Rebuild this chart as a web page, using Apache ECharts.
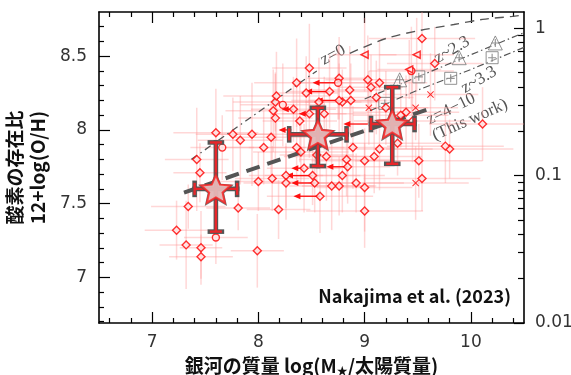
<!DOCTYPE html>
<html>
<head>
<meta charset="utf-8">
<script src="https://cdn.jsdelivr.net/npm/echarts@6/dist/echarts.min.js"></script>
<style>
  html, body { margin: 0; padding: 0; background: #fff; }
  #chart { width: 571px; height: 375px; }
</style>
</head>
<body>
<div id="chart"></div>
<script>
// ---- axes ----
var xMin = 6.5, xMax = 10.5;
var yMin = 6.69, yMax = 8.8;
var xMajor = [7, 8, 9, 10];
var xMinor = [6.6, 6.8, 7.2, 7.4, 7.6, 7.8, 8.2, 8.4, 8.6, 8.8, 9.2, 9.4, 9.6, 9.8, 10.2, 10.4];
var yMajor = [7, 7.5, 8, 8.5];
var yMinor = [6.7, 6.8, 6.9, 7.1, 7.2, 7.3, 7.4, 7.6, 7.7, 7.8, 7.9, 8.1, 8.2, 8.3, 8.4, 8.6, 8.7];
// right axis: Z/Zsun, 12+log(O/H) = 8.69 + log10(Z)
var zSunOH = 8.69;
var zMajor = [0.01, 0.1, 1];
var zMinor = [0.02, 0.03, 0.04, 0.05, 0.06, 0.07, 0.08, 0.09, 0.2, 0.3, 0.4, 0.5, 0.6, 0.7, 0.8, 0.9];

// ---- individual galaxies (red symbols, pink error bars) ----
var galX = [7.23, 7.32, 7.34, 7.42, 7.45, 7.46, 7.46, 7.60, 7.60, 7.66,
  7.76, 7.81, 7.83, 7.94, 8.00, 7.99, 8.05, 8.13, 8.14, 8.16,
  8.16, 8.17, 8.19, 8.23, 8.26, 8.51, 8.26, 8.53, 8.58, 8.43,
  8.33, 8.36, 8.36, 8.39, 8.45, 8.48, 8.75, 8.76, 8.67, 8.86,
  8.87, 8.79, 8.57, 8.76, 9.03, 9.11, 9.14, 9.06, 8.48, 8.62,
  8.12, 8.40, 8.64, 8.83, 8.89, 9.00, 9.09, 8.84, 8.76, 8.69,
  8.92, 8.55, 8.79, 9.00, 9.00, 9.14, 9.51, 9.54, 9.80, 9.54,
  9.66, 9.44, 9.39, 9.34, 9.45, 10.11, 9.31, 9.76, 9.20,
  9.04, 9.62, 9.48, 9.48, 9.00, 9.49, 9.42];
var galY = [7.32, 7.22, 7.48, 7.80, 7.71, 7.20, 7.14, 7.27, 7.98, 7.88,
  7.97, 7.47, 7.93, 7.97, 7.65, 7.18, 7.88, 7.67, 8.13, 8.08,
  8.19, 8.23, 7.46, 8.17, 7.69, 7.69, 7.64, 7.64, 7.55, 7.74,
  8.14, 7.88, 8.32, 8.06, 8.25, 8.42, 8.32, 8.35, 8.26, 8.27,
  8.20, 8.19, 8.19, 8.20, 8.34, 8.22, 8.32, 8.29, 8.11, 8.11,
  7.95, 7.85, 7.82, 7.80, 7.88, 7.79, 7.82, 7.75, 7.62, 7.62,
  7.64, 7.83, 7.69, 7.61, 7.45, 7.87, 7.79, 7.67, 7.87, 8.62,
  8.45, 8.40, 8.12, 8.10, 8.06, 8.04, 7.91, 7.89, 8.15,
  8.15, 8.24, 8.15, 7.64, 8.51, 8.51, 8.41];
var galXErr = [0.30, 0.25, 0.35, 0.30, 0.25, 0.20, 0.30, 0.30, 0.40, 0.30,
  0.35, 0.30, 0.40, 0.35, 0.40, 0.25, 0.40, 0.35, 0.45, 0.35,
  0.40, 0.50, 0.30, 0.40, 0.35, 0.45, 0.40, 0.40, 0.50, 0.35,
  0.40, 0.45, 0.40, 0.35, 0.30, 0.35, 0.40, 0.30, 0.40, 0.35,
  0.40, 0.35, 0.40, 0.45, 0.40, 0.35, 0.45, 0.30, 0.35, 0.40,
  0.35, 0.45, 0.40, 0.45, 0.40, 0.50, 0.45, 0.40, 0.35, 0.40,
  0.45, 0.35, 0.40, 0.45, 0.55, 0.50, 0.60, 0.55, 0.60, 0.50,
  0.45, 0.40, 0.50, 0.45, 0.55, 0.50, 0.45, 0.55, 0.40,
  0.40, 0.45, 0.40, 0.50, 0.30, 0.35, 0.30];
var galYErr = [0.20, 0.30, 0.15, 0.35, 0.20, 0.25, 0.15, 0.18, 0.30, 0.22,
  0.25, 0.15, 0.30, 0.35, 0.20, 0.25, 0.25, 0.22, 0.28, 0.30,
  0.20, 0.30, 0.20, 0.28, 0.22, 0.20, 0.25, 0.20, 0.25, 0.30,
  0.22, 0.25, 0.30, 0.28, 0.25, 0.30, 0.25, 0.28, 0.25, 0.30,
  0.25, 0.22, 0.30, 0.25, 0.30, 0.25, 0.28, 0.22, 0.30, 0.25,
  0.25, 0.22, 0.30, 0.25, 0.28, 0.22, 0.25, 0.25, 0.20, 0.30,
  0.20, 0.22, 0.25, 0.30, 0.25, 0.28, 0.25, 0.22, 0.20, 0.30,
  0.25, 0.30, 0.25, 0.22, 0.28, 0.25, 0.22, 0.25, 0.25,
  0.25, 0.28, 0.22, 0.25, 0.25, 0.25, 0.20];
// d = diamond, o = circle, x = cross, t = left triangle
var galKind = ('dddddddodo' + 'dddddddddd' + 'dddodddddd' + 'ddddddoddd' + 'dddddddddd' +
  'dddddddddd' + 'dddddddddd' + 'dodddddddx' + 'xxxttt').split('');

// mass upper limits (arrows to the left)
var limX = [8.51, 8.53, 8.58, 8.43, 8.33, 8.75, 8.67, 8.76, 8.84, 9.03, 8.31, 8.48];
var limY = [7.69, 7.64, 7.55, 7.74, 8.14, 8.32, 8.26, 8.20, 7.75, 8.04, 8.00, 8.11];
var limLen = [0.25, 0.22, 0.25, 0.12, 0.11, 0.24, 0.23, 0.22, 0.20, 0.23, 0.12, 0.10];

// ---- stacked points (this work) ----
var starX = [7.60, 8.56, 9.26];
var starY = [7.60, 7.97, 8.04];
var starXLo = [7.40, 8.29, 9.06];
var starXHi = [7.80, 8.83, 9.47];
var starYLo = [7.31, 7.755, 7.77];
var starYHi = [7.915, 8.15, 8.29];

// ---- literature stacks z~2.3 (triangles), z~3.3 (squares) ----
var triX = [9.33, 9.89, 10.23];
var triY = [8.34, 8.49, 8.59];
var sqX = [9.19, 9.51, 9.81, 10.20];
var sqY = [8.18, 8.36, 8.35, 8.49];

// ---- relations ----
var z0LowX = [7.37, 7.88, 8.39, 8.55];
var z0LowY = [7.80, 8.06, 8.32, 8.40];
var z0HighX = [8.86, 9.20, 9.52, 9.84, 10.11, 10.39, 10.50];
var z0HighY = [8.52, 8.62, 8.675, 8.715, 8.75, 8.77, 8.78];
var z23X = [9.00, 9.50, 10.00, 10.50];
var z23Y = [8.21, 8.36, 8.51, 8.66];
var z33X = [9.05, 9.50, 10.00, 10.50];
var z33Y = [8.13, 8.27, 8.41, 8.56];
var thisX = [7.30, 8.45, 9.60];
var thisY = [7.575, 7.86, 8.14];

// ---------------------------------------------------------------
var FONT_TICK = '"DejaVu Sans", sans-serif';
var FONT_BOLD = '"Noto Sans CJK JP", "Noto Sans", sans-serif';
var FONT_SERIF = '"Liberation Serif", "DejaVu Serif", serif';
var STAR = 'path://M50,0 L63.52,31.39 L97.55,34.55 L71.87,57.11 L79.39,90.45 L50,73 L20.61,90.45 L28.13,57.11 L2.45,34.55 L36.48,31.39 Z';
var CROSS = 'path://M1,0 L5,4 L9,0 L10,1 L6,5 L10,9 L9,10 L5,6 L1,10 L0,9 L4,5 L0,1 Z';
var PLUS = 'path://M4.3,0 H5.7 V10 H4.3 Z M0,4.3 H10 V5.7 H0 Z';

function zPos(v) { return Math.round((zSunOH + Math.log10(v)) * 1e6) / 1e6; }
function pairs(xs, ys) { return xs.map(function (x, i) { return [x, ys[i]]; }); }
function byKind(k) {
  var out = [];
  galKind.forEach(function (c, i) { if (c === k) out.push([galX[i], galY[i]]); });
  return out;
}

var axisLineStyle = { color: '#000', width: 1.6 };
var tickStyle = { color: '#000', width: 1.2 };
var tickLabel = { fontFamily: FONT_TICK, fontSize: 17, color: '#333' };

function tickAxis(pos, min, max, values, len, withLine, label) {
  return {
    type: 'value', position: pos, min: min, max: max,
    axisLine: { show: withLine, onZero: false, lineStyle: axisLineStyle },
    axisTick: { show: true, inside: true, length: len, customValues: values, lineStyle: tickStyle },
    axisLabel: label || { show: false },
    splitLine: { show: false }
  };
}

var xMain = tickAxis('bottom', xMin, xMax, xMajor, 11, true,
  Object.assign({ show: true, customValues: xMajor, margin: 11 }, tickLabel));
xMain.name = '{a|銀河の質量 log(M}{s|★}{a|/太陽質量)}';
xMain.nameLocation = 'middle';
xMain.nameGap = 28;
xMain.nameTextStyle = {
  rich: {
    a: { fontFamily: FONT_BOLD, fontWeight: 'bold', fontSize: 19, color: '#111', lineHeight: 24 },
    s: { fontFamily: FONT_BOLD, fontWeight: 'bold', fontSize: 11, color: '#111', lineHeight: 24, padding: [9, 0, 0, 0] }
  }
};

var yMain = tickAxis('left', yMin, yMax, yMajor, 11, true,
  Object.assign({ show: true, customValues: yMajor, margin: 12 }, tickLabel));
yMain.name = '酸素の存在比\n12+log(O/H)';
yMain.nameLocation = 'middle';
yMain.nameRotate = 90;
yMain.nameGap = 46;
yMain.nameTextStyle = { fontFamily: FONT_BOLD, fontWeight: 'bold', fontSize: 19, lineHeight: 23, color: '#111' };

var yRight = tickAxis('right', yMin, yMax, zMajor.map(zPos), 10, true,
  Object.assign({
    show: true, customValues: zMajor.map(zPos), margin: 11,
    formatter: function (v) { return String(+Math.pow(10, v - zSunOH).toPrecision(1)); }
  }, tickLabel));

// ---- custom renderers ----
function renderGalErr(params, api) {
  var x = api.value(0), y = api.value(1), xe = api.value(2), ye = api.value(3);
  var l = api.coord([x - xe, y]), r = api.coord([x + xe, y]);
  var b = api.coord([x, y - ye]), t = api.coord([x, y + ye]);
  var st = { stroke: 'rgba(255,150,150,0.38)', lineWidth: 1.5 };
  return {
    type: 'group', children: [
      { type: 'line', shape: { x1: l[0], y1: l[1], x2: r[0], y2: r[1] }, style: st },
      { type: 'line', shape: { x1: b[0], y1: b[1], x2: t[0], y2: t[1] }, style: st }
    ]
  };
}

function renderArrow(params, api) {
  var p0 = api.coord([api.value(0), api.value(1)]);
  var p1 = api.coord([api.value(0) - api.value(2), api.value(1)]);
  return {
    type: 'group', children: [
      { type: 'line', shape: { x1: p0[0], y1: p0[1], x2: p1[0] + 5, y2: p1[1] }, style: { stroke: '#ff1010', lineWidth: 1.3 } },
      { type: 'polygon', shape: { points: [[p1[0], p1[1]], [p1[0] + 7, p1[1] - 3], [p1[0] + 7, p1[1] + 3]] }, style: { fill: '#ff1010' } }
    ]
  };
}

function renderStarErr(params, api) {
  var x = api.value(0), y = api.value(1);
  var L = api.coord([api.value(2), y]), R = api.coord([api.value(3), y]);
  var B = api.coord([x, api.value(4)]), T = api.coord([x, api.value(5)]);
  var c = 6;
  var segs = [
    [L, R], [B, T],
    [[L[0], L[1] - c], [L[0], L[1] + c]], [[R[0], R[1] - c], [R[0], R[1] + c]],
    [[T[0] - c, T[1]], [T[0] + c, T[1]]], [[B[0] - c, B[1]], [B[0] + c, B[1]]]
  ];
  var kids = [];
  segs.forEach(function (s) {
    kids.push({ type: 'line', shape: { x1: s[0][0], y1: s[0][1], x2: s[1][0], y2: s[1][1] },
      style: { stroke: '#555', lineWidth: 4.6, lineCap: 'square' } });
  });
  segs.forEach(function (s) {
    kids.push({ type: 'line', shape: { x1: s[0][0], y1: s[0][1], x2: s[1][0], y2: s[1][1] },
      style: { stroke: '#e8262a', lineWidth: 2.4, lineCap: 'butt' } });
  });
  return { type: 'group', children: kids };
}

function relLine(xs, ys, dash, width, smooth) {
  return {
    type: 'line', data: pairs(xs, ys), symbol: 'none', smooth: smooth || false, z: 3,
    lineStyle: { color: '#555', width: width, type: dash }, silent: true
  };
}

var redItem = { color: '#ffe6e6', borderColor: '#ff0000', borderWidth: 1.4 };
var grayItem = { color: 'rgba(255,255,255,0.5)', borderColor: '#777', borderWidth: 1 };
var labelFont = '17px ' + FONT_SERIF;

var option = {
  animation: false,
  backgroundColor: '#fff',
  grid: { left: 99, right: 47, top: 12, bottom: 52, containLabel: false, outerBoundsMode: 'none' },
  xAxis: [
    xMain,
    tickAxis('bottom', xMin, xMax, xMinor, 5, false),
    tickAxis('top', xMin, xMax, xMajor, 11, true),
    tickAxis('top', xMin, xMax, xMinor, 5, false)
  ],
  yAxis: [
    yMain,
    tickAxis('left', yMin, yMax, yMinor, 5, false),
    yRight,
    tickAxis('right', yMin, yMax, zMinor.map(zPos), 6, false)
  ],
  graphic: [
    { type: 'text', x: 511, y: 296, style: { text: 'Nakajima et al. (2023)', align: 'right', verticalAlign: 'middle',
      font: 'bold 18px ' + FONT_BOLD, fill: '#111' } },
    { type: 'text', x: 333, y: 55, rotation: 28 * Math.PI / 180, style: { text: 'z=0', align: 'center', verticalAlign: 'middle',
      font: labelFont, fill: '#555' } },
    { type: 'text', x: 452, y: 50, rotation: 30 * Math.PI / 180, style: { text: 'z~2.3', align: 'center', verticalAlign: 'middle',
      font: labelFont, fill: '#555' } },
    { type: 'text', x: 479, y: 80, rotation: 30 * Math.PI / 180, style: { text: 'z~3.3', align: 'center', verticalAlign: 'middle',
      font: labelFont, fill: '#555' } },
    { type: 'text', x: 451, y: 109, rotation: 26 * Math.PI / 180, style: { text: 'z=4\u221210', align: 'center', verticalAlign: 'middle',
      font: labelFont, fill: '#555' } },
    { type: 'text', x: 470, y: 120, rotation: 24 * Math.PI / 180, style: { text: '(This work)', align: 'center', verticalAlign: 'middle',
      font: labelFont, fill: '#555' } }
  ],
  series: [
    {
      type: 'custom', renderItem: renderGalErr, clip: true, z: 1, silent: true,
      data: galX.map(function (x, i) { return [x, galY[i], galXErr[i], galYErr[i]]; })
    },
    relLine(z0LowX, z0LowY, [7, 4, 1.5, 4], 1.3),
    relLine(z0HighX, z0HighY, [9, 6], 1.4, 0.3),
    relLine(z23X, z23Y, [7, 3, 1.5, 3], 1.2),
    relLine(z33X, z33Y, [7, 3, 1.5, 3], 1.2),
    relLine(thisX, thisY, [14, 8], 4),
    { type: 'scatter', data: pairs(triX, triY), symbol: 'triangle', symbolSize: 14, itemStyle: grayItem, z: 4, silent: true },
    { type: 'scatter', data: pairs(sqX, sqY), symbol: 'rect', symbolSize: 12, itemStyle: grayItem, z: 4, silent: true },
    { type: 'scatter', data: pairs(triX, triY).concat(pairs(sqX, sqY)), symbol: PLUS, symbolSize: 8,
      itemStyle: { color: '#777' }, z: 4, silent: true },
    {
      type: 'custom', renderItem: renderArrow, z: 5, silent: true,
      data: limX.map(function (x, i) { return [x, limY[i], limLen[i]]; })
    },
    { type: 'scatter', data: byKind('d'), symbol: 'diamond', symbolSize: 8, itemStyle: redItem, z: 6, silent: true },
    { type: 'scatter', data: byKind('o'), symbol: 'circle', symbolSize: 7, itemStyle: redItem, z: 6, silent: true },
    { type: 'scatter', data: byKind('t'), symbol: 'triangle', symbolRotate: 90, symbolSize: 7, itemStyle: redItem, z: 6, silent: true },
    { type: 'scatter', data: byKind('x'), symbol: CROSS, symbolSize: 7, itemStyle: { color: '#ff0000' }, z: 6, silent: true },
    {
      type: 'custom', renderItem: renderStarErr, z: 7, silent: true,
      data: starX.map(function (x, i) { return [x, starY[i], starXLo[i], starXHi[i], starYLo[i], starYHi[i]]; })
    },
    { type: 'scatter', data: pairs(starX, starY), symbol: STAR, symbolKeepAspect: true, symbolSize: 36,
      itemStyle: { color: '#555' }, z: 8, silent: true },
    { type: 'scatter', data: pairs(starX, starY), symbol: STAR, symbolKeepAspect: true, symbolSize: 29,
      itemStyle: { color: '#ffcaca', borderColor: '#ff2020', borderWidth: 2 }, z: 9, silent: true }
  ]
};

var chart = echarts.init(document.getElementById('chart'));
chart.setOption(option);
</script>
</body>
</html>
